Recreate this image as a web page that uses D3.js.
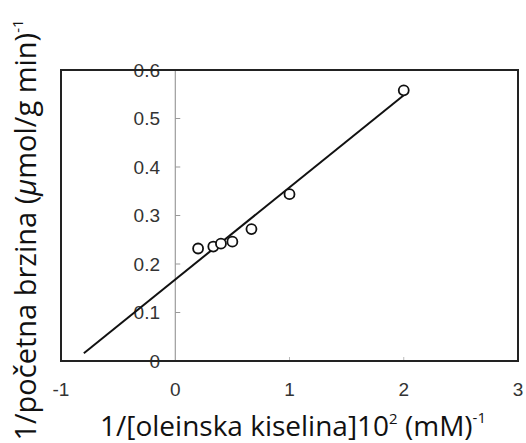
<!DOCTYPE html>
<html>
<head>
<meta charset="utf-8">
<script src="https://cdn.jsdelivr.net/npm/d3@7"></script>
<style>
html,body{margin:0;padding:0;background:#fff;}
svg{display:block;}
</style>
</head>
<body>
<script>
// Data
const xValues = [0.2, 0.333, 0.4, 0.5, 0.667, 1.0, 2.0];
const yValues = [0.232, 0.236, 0.242, 0.246, 0.272, 0.344, 0.558];
// fitted line endpoints
const lineX = [-0.8, 2.0];
const lineY = [0.016, 0.548];
const xTicks = [-1, 0, 1, 2, 3];
const yTicks = [0, 0.1, 0.2, 0.3, 0.4, 0.5, 0.6];
const xTickLabels = ["-1", "0", "1", "2", "3"];
const yTickLabels = ["0", "0.1", "0.2", "0.3", "0.4", "0.5", "0.6"];

const W = 526, H = 443;
const svg = d3.select("body").append("svg").attr("width", W).attr("height", H);

const x = d3.scaleLinear().domain([-1, 3]).range([61, 518]);
const y = d3.scaleLinear().domain([0, 0.6]).range([361, 70]);

const tickFont = "'Liberation Sans', Arial, sans-serif";
const titleFont = "'Open Sans', 'Noto Sans', sans-serif";

// inner vertical axis at x = 0
svg.append("line")
  .attr("x1", x(0)).attr("x2", x(0))
  .attr("y1", y(0.6)).attr("y2", y(0))
  .attr("stroke", "#888").attr("stroke-width", 1);

// y ticks on inner axis (pointing right)
svg.selectAll(".ytick").data(yTicks.filter(v => v > 0 && v < 0.6)).enter()
  .append("line")
  .attr("x1", x(0)).attr("x2", x(0) + 5)
  .attr("y1", d => y(d)).attr("y2", d => y(d))
  .attr("stroke", "#999").attr("stroke-width", 1);

// x ticks on bottom (pointing up)
svg.selectAll(".xtick").data(xTicks.filter(v => v > 0 && v < 3)).enter()
  .append("line")
  .attr("x1", d => x(d)).attr("x2", d => x(d))
  .attr("y1", y(0)).attr("y2", y(0) - 4)
  .attr("stroke", "#bbb").attr("stroke-width", 1);

// y tick labels
svg.selectAll(".ylab").data(yTicks).enter()
  .append("text")
  .attr("x", 160)
  .attr("y", d => y(d))
  .attr("dy", "0.36em")
  .attr("text-anchor", "end")
  .attr("font-family", tickFont)
  .attr("font-size", 19)
  .attr("fill", "#333")
  .text((d, i) => yTickLabels[i]);

// x tick labels
svg.selectAll(".xlab").data(xTicks).enter()
  .append("text")
  .attr("x", d => x(d))
  .attr("y", 396)
  .attr("text-anchor", "middle")
  .attr("font-family", tickFont)
  .attr("font-size", 19)
  .attr("fill", "#333")
  .text((d, i) => xTickLabels[i]);

// frame
svg.append("rect")
  .attr("x", x(-1)).attr("y", y(0.6))
  .attr("width", x(3) - x(-1)).attr("height", y(0) - y(0.6))
  .attr("fill", "none").attr("stroke", "#222").attr("stroke-width", 2);

// fitted line
const lineData = lineX.map((v, i) => [v, lineY[i]]);
svg.append("path")
  .datum(lineData)
  .attr("d", d3.line().x(d => x(d[0])).y(d => y(d[1])))
  .attr("fill", "none").attr("stroke", "#111").attr("stroke-width", 2);

// points
svg.selectAll(".pt").data(xValues.map((v, i) => [v, yValues[i]])).enter()
  .append("circle")
  .attr("cx", d => x(d[0])).attr("cy", d => y(d[1]))
  .attr("r", 5)
  .attr("fill", "#fff").attr("stroke", "#111").attr("stroke-width", 1.8);

// x axis title
const xt = svg.append("text")
  .attr("x", 293).attr("y", 436)
  .attr("text-anchor", "middle")
  .attr("font-family", titleFont)
  .attr("font-size", 28)
  .attr("fill", "#111");
xt.append("tspan").text("1/[oleinska kiselina]10");
xt.append("tspan").attr("font-size", 15).attr("dy", -12).text("2");
xt.append("tspan").attr("dy", 12).text(" (mM)");
xt.append("tspan").attr("font-size", 15).attr("dy", -13).text("-1");

// y axis title
const yt = svg.append("text")
  .attr("transform", "translate(36,230) rotate(-90)")
  .attr("text-anchor", "middle")
  .attr("font-family", titleFont)
  .attr("font-size", 29)
  .attr("fill", "#111");
yt.append("tspan").text("1/početna brzina (");
yt.append("tspan").attr("font-style", "italic").text("μ");
yt.append("tspan").text("mol/g min)");
yt.append("tspan").attr("font-size", 15).attr("dy", -13).text("-1");
</script>
</body>
</html>
